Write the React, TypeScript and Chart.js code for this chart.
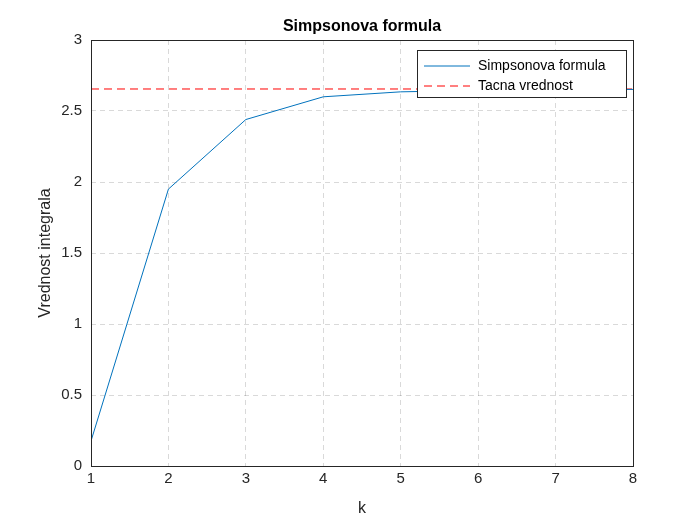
import { Chart, registerables } from 'chart.js';
import React, { useEffect, useRef } from 'react';

Chart.register(...registerables);

const kValues = [1, 2, 3, 4, 5, 6, 7, 8];
const simpsonValues = [0.176, 1.95, 2.44, 2.6, 2.635, 2.645, 2.65, 2.652];
const exactValue = 2.655;
const yTicks = [0, 0.5, 1, 1.5, 2, 2.5, 3];

const FONT = 'Helvetica, Arial, "Liberation Sans", sans-serif';

const framePlugin = {
  id: 'frame',
  afterDraw(chart: Chart) {
    const { ctx, chartArea: a } = chart;
    ctx.save();
    ctx.strokeStyle = '#262626';
    ctx.lineWidth = 1;
    ctx.strokeRect(a.left + 0.5, a.top + 0.5, a.right - a.left, a.bottom - a.top);
    // title
    ctx.fillStyle = '#000';
    ctx.font = `bold 16px ${FONT}`;
    ctx.textAlign = 'center';
    ctx.textBaseline = 'bottom';
    ctx.fillText('Simpsonova formula', (a.left + a.right) / 2, a.top - 5);
    // axis titles
    ctx.fillStyle = '#262626';
    ctx.font = `16px ${FONT}`;
    ctx.textBaseline = 'middle';
    ctx.fillText('k', (a.left + a.right) / 2, 509);
    ctx.translate(46, (a.top + a.bottom) / 2);
    ctx.rotate(-Math.PI / 2);
    ctx.fillText('Vrednost integrala', 0, 0);
    ctx.setTransform(1, 0, 0, 1, 0, 0);
    // legend
    const lx = 417, ly = 50, lw = 209, lh = 47;
    ctx.fillStyle = '#fff';
    ctx.fillRect(lx, ly, lw, lh);
    ctx.strokeStyle = '#262626';
    ctx.strokeRect(lx + 0.5, ly + 0.5, lw, lh);
    ctx.font = `14px ${FONT}`;
    ctx.textAlign = 'left';
    ctx.textBaseline = 'middle';
    chart.data.datasets.forEach((ds: any, i: number) => {
      const y = ly + 16 + i * 20;
      ctx.strokeStyle = ds.borderColor;
      ctx.setLineDash(ds.borderDash || []);
      ctx.beginPath();
      ctx.moveTo(lx + 7, y);
      ctx.lineTo(lx + 53, y);
      ctx.stroke();
      ctx.setLineDash([]);
      ctx.fillStyle = '#000';
      ctx.fillText(ds.label, lx + 61, y);
    });
    ctx.restore();
  },
};

export default function App() {
  const canvasRef = useRef<HTMLCanvasElement>(null);

  useEffect(() => {
    document.body.style.margin = '0';
    if (!canvasRef.current) return;
    const chart = new Chart(canvasRef.current, {
      type: 'line',
      data: {
        datasets: [
          {
            label: 'Simpsonova formula',
            data: kValues.map((k, i) => ({ x: k, y: simpsonValues[i] })),
            borderColor: '#0072BD',
            borderWidth: 1,
            pointRadius: 0,
            tension: 0,
          },
          {
            label: 'Tacna vrednost',
            data: [
              { x: kValues[0], y: exactValue },
              { x: kValues[kValues.length - 1], y: exactValue },
            ],
            borderColor: '#FF0000',
            borderWidth: 1,
            borderDash: [8, 5],
            pointRadius: 0,
          },
        ],
      },
      plugins: [framePlugin],
      options: {
        animation: false,
        responsive: false,
        layout: { padding: { top: 40, right: 67, left: 0, bottom: 0 } },
        plugins: { legend: { display: false }, tooltip: { enabled: false } },
        scales: {
          x: {
            type: 'linear',
            min: 1,
            max: 8,
            afterFit: (s: any) => { s.height = 59; },
            ticks: { stepSize: 1, color: '#262626', font: { size: 15, family: FONT }, padding: 4 },
            grid: { color: 'rgba(0,0,0,0.15)', drawTicks: false },
            border: { display: false, dash: [5, 4] },
          },
          y: {
            min: 0,
            max: 3,
            afterFit: (s: any) => { s.width = 91; },
            afterBuildTicks: (s: any) => { s.ticks = yTicks.map((v) => ({ value: v })); },
            ticks: {
              color: '#262626',
              font: { size: 15, family: FONT },
              padding: 9,
              callback: (v: any) => String(v),
            },
            grid: { color: 'rgba(0,0,0,0.15)', drawTicks: false },
            border: { display: false, dash: [5, 4] },
          },
        },
      },
    });
    return () => chart.destroy();
  }, []);

  return (
    <div style={{ width: 700, height: 525, background: '#fff' }}>
      <canvas ref={canvasRef} width={700} height={525} />
    </div>
  );
}
